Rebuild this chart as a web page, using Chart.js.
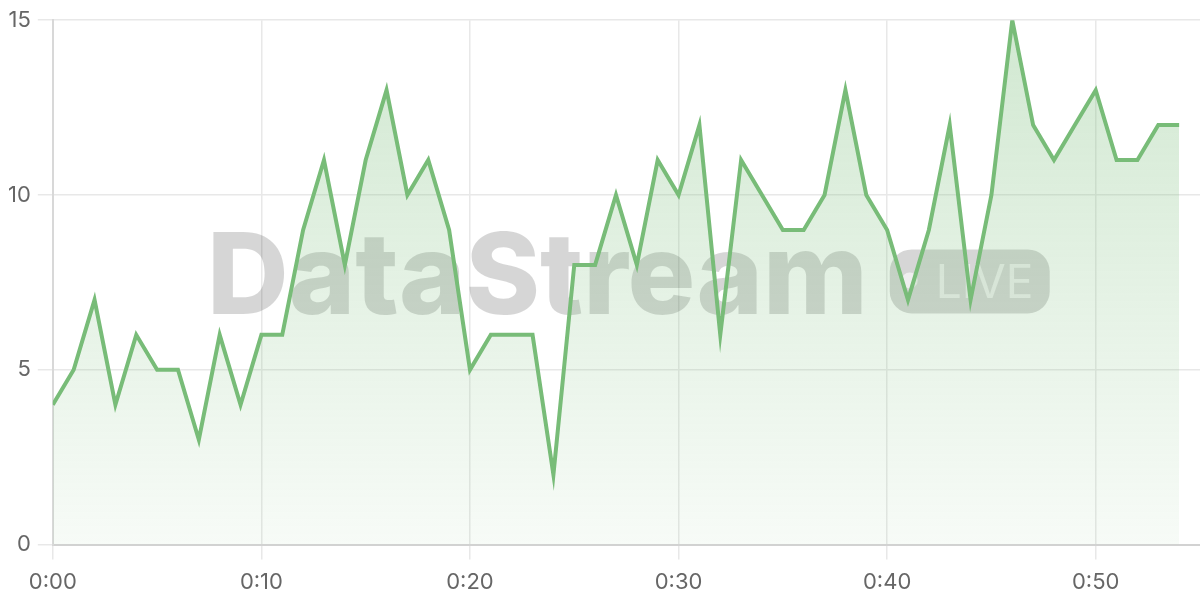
<!DOCTYPE html>
<html>
<head>
<meta charset="utf-8">
<script src="https://cdn.jsdelivr.net/npm/chart.js@4.4.1/dist/chart.umd.min.js"></script>
<style>
    body { margin: 0; background: #fff; }
    #wrap { width: 1200px; height: 600px; }
</style>
</head>
<body>
<div id="wrap"><canvas id="chart"></canvas></div>
<script>
// minutes since start (x) and reading per minute (y)
const minutes = [0, 1, 2, 3, 4, 5, 6, 7, 8, 9, 10, 11, 12, 13, 14, 15, 16, 17, 18, 19,
    20, 21, 22, 23, 24, 25, 26, 27, 28, 29, 30, 31, 32, 33, 34, 35, 36, 37, 38, 39,
    40, 41, 42, 43, 44, 45, 46, 47, 48, 49, 50, 51, 52, 53, 54];
const values = [4, 5, 7, 4, 6, 5, 5, 3, 6, 4, 6, 6, 9, 11, 8, 11, 13, 10, 11, 9,
    5, 6, 6, 6, 2, 8, 8, 10, 8, 11, 10, 12, 6, 11, 10, 9, 9, 10, 13, 10,
    9, 7, 9, 12, 7, 10, 15, 12, 11, 12, 13, 11, 11, 12, 12];
const xTickLabels = ["0:00", "0:10", "0:20", "0:30", "0:40", "0:50"];
const yTicks = [0, 5, 10, 15];

const LINE = "rgb(120, 188, 120)";

const watermark = {
    id: "watermark",
    beforeDatasetsDraw(chart) {
        const { ctx, chartArea } = chart;
        const cx = (chartArea.left + chartArea.right) / 2 + 2;
        const base = (chartArea.top + chartArea.bottom) / 2 + 32;

        ctx.save();
        ctx.font = "800 113px Inter, 'Noto Sans', sans-serif";
        const textW = ctx.measureText("DataStream").width;
        const badgeW = 160, badgeH = 64, gap = 22;
        const left = cx - (textW + gap + badgeW) / 2;

        ctx.fillStyle = "rgba(0, 0, 0, 0.16)";
        ctx.textBaseline = "alphabetic";
        ctx.fillText("DataStream", left, base);

        const bx = left + textW + gap, by = base - 65;
        ctx.beginPath();
        ctx.roundRect(bx, by, badgeW, badgeH, 22);
        ctx.fill();

        ctx.fillStyle = "rgba(255, 255, 255, 0.6)";
        ctx.beginPath();
        ctx.arc(bx + 20, by + 31, 8, 0, Math.PI * 2);
        ctx.fill();
        ctx.font = "400 46px Inter, 'Noto Sans', sans-serif";
        ctx.fillText("LIVE", bx + 46, by + 49);
        ctx.restore();
    }
};

const ctx = document.getElementById("chart").getContext("2d");

new Chart(ctx, {
    type: "line",
    data: {
        datasets: [{
            data: minutes.map((m, i) => ({ x: m, y: values[i] })),
            borderColor: LINE,
            borderWidth: 4,
            pointRadius: 0,
            tension: 0,
            fill: "origin",
            backgroundColor: (c) => {
                const area = c.chart.chartArea;
                if (!area) return "rgba(120, 188, 120, 0.2)";
                const g = c.chart.ctx.createLinearGradient(0, area.top, 0, area.bottom);
                g.addColorStop(0, "rgba(120, 188, 120, 0.34)");
                g.addColorStop(1, "rgba(120, 188, 120, 0.06)");
                return g;
            }
        }]
    },
    options: {
        animation: false,
        responsive: true,
        maintainAspectRatio: false,
        layout: {
            padding: { top: 7, left: 1, right: 0, bottom: 0 }
        },
        plugins: {
            legend: { display: false },
            tooltip: { enabled: false }
        },
        scales: {
            x: {
                type: "linear",
                min: 0,
                max: 55,
                // pull the axis a little lower than chart.js would place it
                afterFit: (s) => { s.height -= 6; },
                grid: { color: "#e8e8e8", lineWidth: 1.5, tickLength: 15 },
                border: { color: "#d2d2d2", width: 2 },
                ticks: {
                    stepSize: 10,
                    includeBounds: false,
                    padding: 10,
                    color: "#666",
                    font: { family: "Inter", size: 22 },
                    callback: (v) => xTickLabels[v / 10] ?? ""
                }
            },
            y: {
                min: yTicks[0],
                max: yTicks[yTicks.length - 1],
                grid: { color: "#e8e8e8", lineWidth: 1.5, tickLength: 15 },
                border: { color: "#d8d8d8", width: 2 },
                ticks: {
                    stepSize: 5,
                    padding: 7,
                    color: "#666",
                    font: { family: "Inter", size: 22 }
                }
            }
        }
    },
    plugins: [watermark]
});
</script>
</body>
</html>
